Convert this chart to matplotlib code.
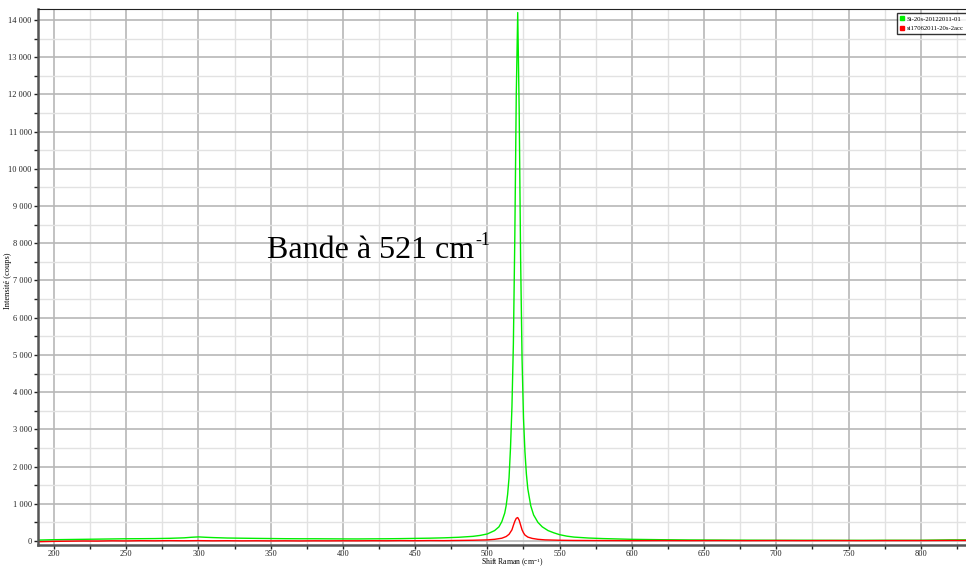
import matplotlib
matplotlib.use("Agg")
import matplotlib.pyplot as plt
from matplotlib.ticker import MultipleLocator, FuncFormatter

plt.rcParams['font.family'] = ['Liberation Serif', 'DejaVu Serif']
plt.rcParams['mathtext.fontset'] = 'custom'
plt.rcParams['mathtext.rm'] = 'Liberation Serif'
plt.rcParams['mathtext.it'] = 'Liberation Serif:italic'

# spectre Si-20s-20122011-01 (vert)
shift_green = [189, 200, 210, 220, 230, 240, 250, 260, 270, 280, 290, 295, 300, 305, 310,
               320, 330, 340, 350, 360, 370, 380, 390, 400, 410, 420, 430, 440, 450,
               460, 470, 480, 490, 495, 500, 505, 508, 510, 512, 513, 514, 515, 516,
               517, 518, 519, 520, 521, 522, 523, 524, 525, 526, 527, 528, 530, 532,
               535, 538, 542, 546, 550, 555, 560, 570, 580, 590, 600, 620, 640, 660,
               680, 700, 720, 740, 760, 780, 800, 810, 820, 835]
counts_green = [25, 35, 40, 45, 50, 55, 60, 62, 65, 72, 85, 100, 110, 100, 92,
                80, 75, 70, 66, 62, 60, 60, 58, 56, 55, 58, 60, 64, 70,
                76, 85, 100, 125, 150, 190, 280, 380, 520, 750, 950, 1250, 1700, 2500,
                3600, 5300, 8200, 12000, 14200, 11600, 7600, 4900, 3300, 2400, 1800, 1400, 950, 700,
                500, 380, 280, 220, 170, 130, 105, 80, 65, 55, 45, 35, 28, 25,
                22, 20, 20, 18, 18, 20, 20, 25, 30, 30]

# spectre si17062011-20s-2acc (rouge)
shift_red = [189, 200, 210, 220, 230, 240, 250, 260, 270, 280, 290, 300, 310, 320, 330,
             340, 350, 360, 370, 380, 390, 400, 410, 420, 430, 440, 450, 460, 470, 480,
             490, 500, 505, 510, 513, 515, 517, 518, 519, 520, 521, 522, 523, 524, 525,
             526, 528, 531, 535, 540, 550, 560, 580, 600, 620, 640, 660, 680, 700, 720,
             740, 760, 780, 800, 820, 835]
counts_red = [-20, -10, -5, 0, -2, 5, 2, 8, 5, 10, 6, 10, 5, 8, 4,
              6, 3, 5, 2, 5, 4, 6, 5, 8, 6, 10, 8, 12, 10, 15,
              20, 30, 45, 75, 120, 180, 300, 420, 530, 610, 630, 560, 430, 300, 220,
              160, 105, 70, 45, 30, 20, 15, 12, 10, 12, 10, 12, 10, 12, 10,
              12, 10, 12, 12, 15, 15]

label_green = "Si-20s-20122011-01"
label_red = "si17062011-20s-2acc"

fig = plt.figure(figsize=(9.66, 5.67), dpi=100)
ax = fig.add_axes([38 / 966, 1 - 545 / 567, 933 / 966, 536 / 567])

ax.plot(shift_green, counts_green, color='#00ee00', lw=1.0, label=label_green)
ax.plot(shift_red, counts_red, color='#ff0000', lw=1.0, label=label_red)

ax.set_xlim(188.9, 834.8)
ax.set_ylim(-107.5, 14295.6)

ax.xaxis.set_major_locator(MultipleLocator(50))
ax.xaxis.set_minor_locator(MultipleLocator(25))
ax.yaxis.set_major_locator(MultipleLocator(1000))
ax.yaxis.set_minor_locator(MultipleLocator(500))

fmt = FuncFormatter(lambda v, p: f"{int(v):,}".replace(",", " "))
ax.yaxis.set_major_formatter(fmt)

ax.grid(which='major', color='#b8b8b8', lw=1.2)
ax.grid(which='minor', color='#e2e2e2', lw=1.0)
ax.set_axisbelow(True)

ax.tick_params(which='both', direction='out', labelsize=6, colors='#222222', width=1, pad=1.5)
ax.tick_params(axis='x', pad=0.5)
ax.tick_params(which='major', length=3)
ax.tick_params(which='minor', length=3)

for s in ['left', 'bottom']:
    ax.spines[s].set_color('#555555')
    ax.spines[s].set_linewidth(1.8)
ax.spines['top'].set_color('#222222')
ax.spines['right'].set_visible(False)

ax.set_xlabel("Shift Raman (cm$^{-1}$)", fontsize=5.5)
ax.xaxis.set_label_coords((512 - 38) / 933, -(556 - 545) / 536)
ax.set_ylabel("Intensité (coups)", fontsize=6)
ax.yaxis.set_label_coords((12 - 38) / 933, 0.4925)

t = ax.text(347.5, 7605, "Bande à 521 cm", fontsize=23, va='baseline', ha='left')
ax.annotate("-1", xy=(1.0, 0.55), xycoords=t, xytext=(1, 0), textcoords='offset points',
            fontsize=13, va='bottom', ha='left')

leg = ax.legend(loc='upper left', bbox_to_anchor=(897 / 966, 1 - 13 / 567),
                bbox_transform=fig.transFigure, prop={'size': 4.8}, frameon=True,
                fancybox=False, edgecolor='black', handlelength=0.6,
                handletextpad=0.4, borderpad=0.45, labelspacing=0.55,
                borderaxespad=0)
leg.get_frame().set_linewidth(1.0)
for h in leg.legend_handles:
    h.set_linestyle('')
    h.set_marker('s')
    h.set_markersize(3.5)

fig.savefig("out.png", dpi=100)
